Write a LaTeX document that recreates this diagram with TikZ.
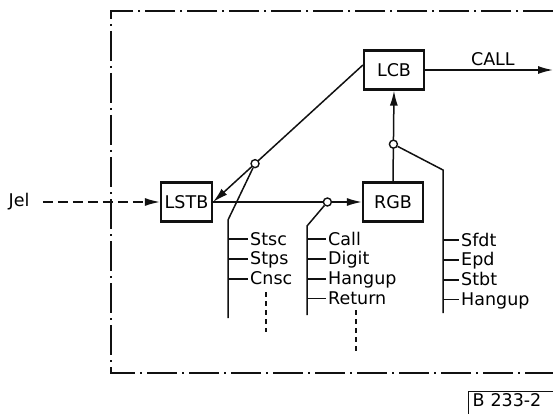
\documentclass[tikz,border=0pt]{standalone}
\usepackage{fontspec}
\setmainfont{DejaVu Sans}
\usepackage{tikz}
\usetikzlibrary{
  arrows.meta,
  positioning,
  calc
}
\definecolor{lnInk}{HTML}{111111}
\tikzset{
  lnfont/.style={font=\fontsize{17.5}{19}\selectfont},
  blk/.style={
    draw=lnInk, line width=2.2pt, minimum height=39pt, minimum width=60pt,
    lnfont, align=center, inner sep=1pt
  },
  sig/.style={line width=1.5pt, draw=lnInk},
  sigarrow/.style={sig, -{Latex[length=15pt,width=8pt]}},
  feed/.style={sigarrow, dash pattern=on 10pt off 5pt},
  junc/.style={circle, draw=lnInk, fill=white, line width=1.4pt, inner sep=0pt, minimum size=8pt},
  siglabel/.style={lnfont, text height=14pt, text depth=2pt, inner xsep=2pt, inner ysep=1.75pt},
  cont/.style={line width=1.2pt, draw=lnInk, dash pattern=on 5pt off 4pt},
  frame/.style={line width=1.6pt, draw=lnInk, dash pattern=on 30pt off 5pt on 2pt off 5pt},
  figtag/.style={draw=lnInk, line width=1.4pt, lnfont, text height=14pt, text depth=12pt,
    text width=90pt, align=left, inner xsep=4pt, inner ysep=1pt, anchor=north west}
}
\begin{document}
\begin{tikzpicture}[x=1pt, y=-1pt]
  \useasboundingbox (0,0) rectangle (553,414);
  % enclosing frame
  \draw[frame] (553,11) -- (111,11) -- (111,373) -- (553,373);
  % blocks
  \node[blk, minimum width=51pt] (lstb) at (186.5,202) {LSTB};
  \node[blk] (rgb) at (393,202) {RGB};
  \node[blk] (lcb) at (394,70) {LCB};
  \node[lnfont] (jel) at (19,202) {Jel};
  \coordinate (callend) at (553,70);
  % signal flow
  \draw[feed, shorten <=10pt] (jel.east) -- (lstb.west);
  \draw[sigarrow] (lcb.east) -- node[above, pos=0.53, siglabel] (calllbl) {CALL} (callend);
  \draw[sigarrow] ([yshift=5pt]lcb.west) -- node[junc, pos=0.72] (jstb) {} (lstb.east);
  \draw[sigarrow] (lstb.east) -- node[junc, pos=0.768] (jrgb) {} (rgb.west);
  \draw[sigarrow] (rgb.north) -- node[junc, pos=0.41] (jlcb) {} (lcb.south);
  % bus for LSTB
  \coordinate (stbbend) at (228,220);
  \coordinate (stbend) at (228,318);
  \draw[sig] (jstb) -- (stbbend) -- (stbend);
  \node[siglabel, anchor=west] (stsc) at (248,239) {Stsc};
  \node[siglabel, below=0pt of stsc.south west, anchor=north west] (stps) {Stps};
  \node[siglabel, below=0pt of stps.south west, anchor=north west] (cnsc) {Cnsc};
  \foreach \lbl in {stsc, stps, cnsc}
    \draw[sig] (stbbend |- \lbl.west) -- (\lbl.west);
  % bus for RGB
  \coordinate (rgbbend) at (307,226);
  \coordinate (rgbend) at (307,315);
  \draw[sig] (jrgb) -- (rgbbend) -- (rgbend);
  \node[siglabel, anchor=west] (call) at (326,239) {Call};
  \node[siglabel, below=0pt of call.south west, anchor=north west] (digit) {Digit};
  \node[siglabel, below=0pt of digit.south west, anchor=north west] (hangupr) {Hangup};
  \node[siglabel, below=0pt of hangupr.south west, anchor=north west] (return) {Return};
  \foreach \lbl in {call, digit, hangupr, return}
    \draw[sig] (rgbbend |- \lbl.west) -- (\lbl.west);
  % bus for LCB
  \coordinate (lcbbend) at (443,170);
  \coordinate (lcbend) at (443,313);
  \draw[sig] (jlcb) -- (lcbbend) -- (lcbend);
  \node[siglabel, anchor=west] (sfdt) at (459,240) {Sfdt};
  \node[siglabel, below=0pt of sfdt.south west, anchor=north west] (epd) {Epd};
  \node[siglabel, below=0pt of epd.south west, anchor=north west] (stbt) {Stbt};
  \node[siglabel, below=0pt of stbt.south west, anchor=north west] (hangupl) {Hangup};
  \foreach \lbl in {sfdt, epd, stbt, hangupl}
    \draw[sig] (lcbbend |- \lbl.west) -- (\lbl.west);
  % continuation marks
  \coordinate (stbcont) at (266,292);
  \coordinate (rgbcont) at (356,310);
  \draw[cont] (stbcont) -- ++(0,40);
  \draw[cont] (rgbcont) -- ++(0,43);
  % figure tag
  \node[figtag] (tag) at (468,391) {B 233-2};
\end{tikzpicture}
\end{document}
